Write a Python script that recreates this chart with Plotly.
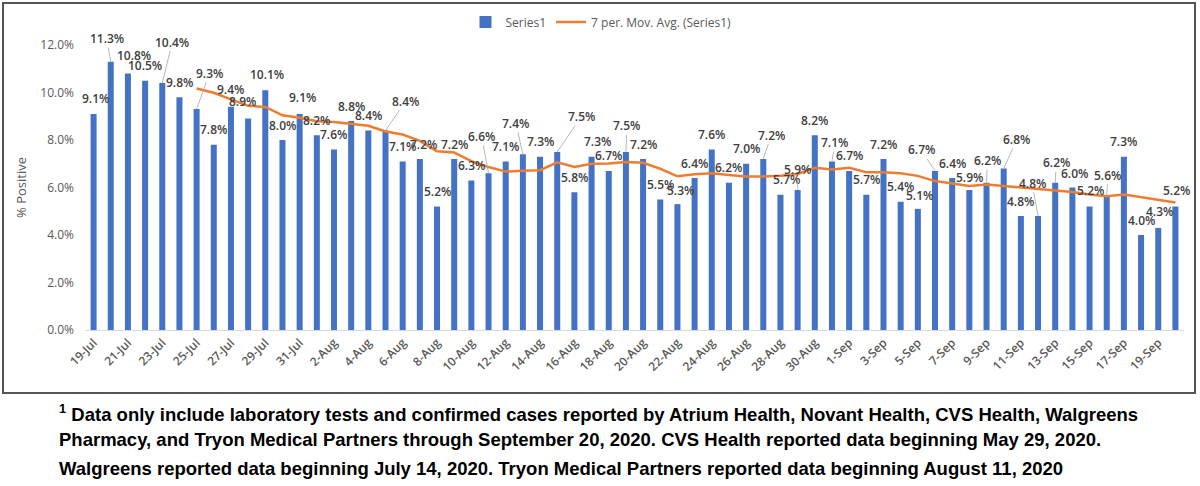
import plotly.graph_objects as go

dates = ["19-Jul", "20-Jul", "21-Jul", "22-Jul", "23-Jul", "24-Jul", "25-Jul", "26-Jul",
         "27-Jul", "28-Jul", "29-Jul", "30-Jul", "31-Jul",
         "1-Aug", "2-Aug", "3-Aug", "4-Aug", "5-Aug", "6-Aug", "7-Aug", "8-Aug", "9-Aug",
         "10-Aug", "11-Aug", "12-Aug", "13-Aug", "14-Aug", "15-Aug", "16-Aug", "17-Aug",
         "18-Aug", "19-Aug", "20-Aug", "21-Aug", "22-Aug", "23-Aug", "24-Aug", "25-Aug",
         "26-Aug", "27-Aug", "28-Aug", "29-Aug", "30-Aug", "31-Aug",
         "1-Sep", "2-Sep", "3-Sep", "4-Sep", "5-Sep", "6-Sep", "7-Sep", "8-Sep", "9-Sep",
         "10-Sep", "11-Sep", "12-Sep", "13-Sep", "14-Sep", "15-Sep", "16-Sep", "17-Sep",
         "18-Sep", "19-Sep", "20-Sep"]

pct_positive = [9.1, 11.3, 10.8, 10.5, 10.4, 9.8, 9.3, 7.8, 9.4, 8.9, 10.1, 8.0, 9.1,
                8.2, 7.6, 8.8, 8.4, 8.4, 7.1, 7.2, 5.2, 7.2, 6.3, 6.6, 7.1, 7.4, 7.3, 7.5,
                5.8, 7.3, 6.7, 7.5, 7.2, 5.5, 5.3, 6.4, 7.6, 6.2, 7.0, 7.2, 5.7, 5.9, 8.2, 7.1,
                6.7, 5.7, 7.2, 5.4, 5.1, 6.7, 6.4, 5.9, 6.2, 6.8, 4.8, 4.8, 6.2, 6.0, 5.2, 5.6,
                7.3, 4.0, 4.3, 5.2]

mov_avg = [None, None, None, None, None, None,
           10.17, 9.99, 9.71, 9.44, 9.39, 9.04, 8.94,
           8.79, 8.76, 8.67, 8.60, 8.36, 8.23, 7.96, 7.53, 7.47, 7.11, 6.86, 6.67, 6.71,
           6.73, 7.06, 6.86, 7.00, 7.01, 7.07, 7.04, 6.79, 6.47, 6.56, 6.60, 6.53, 6.46,
           6.46, 6.49, 6.57, 6.83, 6.76,
           6.83, 6.64, 6.64, 6.60, 6.49, 6.27, 6.17, 6.06, 6.13, 6.07, 5.99, 5.94, 5.87,
           5.81, 5.71, 5.63, 5.70, 5.59, 5.51, 5.37]

tick_labels = dates[::2]

footnote_lines = [
    "<sup>1</sup> Data only include laboratory tests and confirmed cases reported by Atrium Health, Novant Health, CVS Health, Walgreens",
    "Pharmacy, and Tryon Medical Partners through September 20, 2020. CVS Health reported data beginning May 29, 2020.",
    "Walgreens reported data beginning July 14, 2020. Tryon Medical Partners reported data beginning August 11, 2020",
]

# label placement (pixel offsets of label centre from bar top; True = leader line)
DEFAULT_OFF = (0, -15, False)
label_off = {
    0: (2, -15, False), 1: (-4, -23, True), 2: (6, -18, False), 4: (10, -41, True),
    6: (13, -36, True), 8: (0, -17, False), 9: (-6, -17, False), 10: (2, -16, False),
    12: (3, -16, False), 17: (20, -29, True), 19: (4, -15, False), 23: (-7, -37, True),
    25: (-7, -31, True), 27: (24, -35, True), 29: (6, -15, False), 31: (1, -26, True),
    34: (3, -14, False), 39: (8, -24, True), 40: (6, -15, False), 41: (0, -20, True),
    43: (3, -19, True), 48: (2, -13, False), 49: (-14, -21, True), 51: (0, -12, False),
    52: (1, -22, True), 53: (13, -29, True), 55: (-6, -33, True), 56: (1, -20, True),
    57: (2, -14, False), 58: (1, -16, False), 59: (1, -22, True), 62: (1, -16, False),
    63: (1, -16, False),
}

FONT = "Open Sans"
GRAY = "#595959"
DARK = "#404040"

fig = go.Figure()
fig.add_trace(go.Bar(
    x=dates, y=[v / 100 for v in pct_positive], name="Series1",
    marker=dict(color="#4472C4", line=dict(width=0)),
))
fig.add_trace(go.Scatter(
    x=dates, y=[None if v is None else v / 100 for v in mov_avg],
    name="7 per. Mov. Avg. (Series1)", mode="lines",
    line=dict(color="#ED7D31", width=2.5),
))

annotations = []
for i, (d, v) in enumerate(zip(dates, pct_positive)):
    dx, dy, leader = label_off.get(i, DEFAULT_OFF)
    txt = f"{v:.1f}%"
    f = dict(family=FONT, size=12, color=DARK, weight=600)
    if leader:
        annotations.append(dict(
            x=d, y=v / 100, xref="x", yref="y", text=txt, font=f,
            showarrow=True, ax=dx, ay=dy, axref="pixel", ayref="pixel",
            arrowhead=0, arrowwidth=0.8, arrowcolor="#a6a6a6", standoff=0,
            borderpad=0,
        ))
    else:
        annotations.append(dict(
            x=d, y=v / 100, xref="x", yref="y", text=txt, font=f,
            showarrow=False, xshift=dx, yshift=-dy,
        ))

PLOT_L, PLOT_R, PLOT_T, PLOT_B = 85, 1184, 45, 330
PW, PH = PLOT_R - PLOT_L, PLOT_B - PLOT_T


def px_to_paper_x(px):
    return (px - PLOT_L) / PW


def px_to_paper_y(py):
    return (PLOT_B - py) / PH


for line, py in zip(footnote_lines, [413, 440, 468]):
    annotations.append(dict(
        x=px_to_paper_x(57), y=px_to_paper_y(py), xref="paper", yref="paper",
        xanchor="left", yanchor="middle", showarrow=False, text=line,
        font=dict(family="Liberation Sans Narrow, Liberation Sans", size=18.5,
                  color="#000000", weight=700),
    ))

fig.update_layout(
    width=1200, height=486,
    margin=dict(l=PLOT_L, r=1200 - PLOT_R, t=PLOT_T, b=486 - PLOT_B, autoexpand=False),
    paper_bgcolor="white", plot_bgcolor="white",
    bargap=0.65,
    font=dict(family=FONT, color=GRAY, size=12),
    showlegend=True,
    legend=dict(orientation="h", x=px_to_paper_x(601), xanchor="center",
                y=px_to_paper_y(22), yanchor="middle",
                font=dict(family=FONT, size=12, color=GRAY), itemwidth=30),
    xaxis=dict(
        type="category", tickmode="array", tickvals=tick_labels, ticktext=tick_labels,
        tickangle=-45, showgrid=False, zeroline=False, showline=True,
        linecolor="#d9d9d9", linewidth=1, ticks="",
        tickfont=dict(family=FONT, size=12, color=GRAY, weight=600),
        range=[-0.5, len(dates) - 0.5], automargin=False,
    ),
    yaxis=dict(
        range=[0, 0.12], dtick=0.02, tickformat=".1%", showgrid=False,
        zeroline=False, showline=False, ticks="", ticklabelstandoff=10,
        tickfont=dict(family=FONT, size=12, color=GRAY),
        title=dict(text="% Positive", font=dict(family=FONT, size=13, color=GRAY),
                   standoff=10),
        automargin=False,
    ),
    annotations=annotations,
    shapes=[dict(
        type="rect", xref="paper", yref="paper",
        x0=px_to_paper_x(3), x1=px_to_paper_x(1195),
        y0=px_to_paper_y(393), y1=px_to_paper_y(3),
        line=dict(color="#555555", width=2), fillcolor="rgba(0,0,0,0)",
    )],
)

fig.write_html("out.html")
